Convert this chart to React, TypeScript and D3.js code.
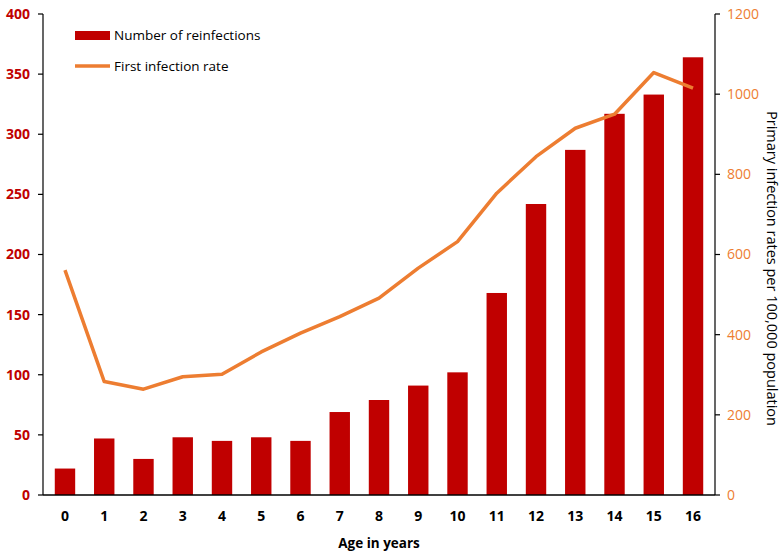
import { useMemo } from "react";
import * as d3 from "d3";

const W = 784;
const H = 552;
const MARGIN = { top: 14, right: 69, bottom: 57, left: 43 };

const BAR_COLOR = "#C00000";
const LINE_COLOR = "#ED7D31";
const FONT = "'Open Sans', 'Noto Sans', sans-serif";

// age groups (x axis)
const ages = ["0", "1", "2", "3", "4", "5", "6", "7", "8", "9", "10", "11", "12", "13", "14", "15", "16"];
// number of reinfections (left axis)
const reinfections = [22, 47, 30, 48, 45, 48, 45, 69, 79, 91, 102, 168, 242, 287, 317, 333, 364];
// first infection rate per 100,000 (right axis)
const firstRate = [561, 283, 264, 295, 301, 357, 404, 445, 491, 566, 632, 753, 844, 915, 950, 1054, 1015];

const leftTicks = [0, 50, 100, 150, 200, 250, 300, 350, 400];
const rightTicks = [0, 200, 400, 600, 800, 1000, 1200];

export default function App() {
  const boundsW = W - MARGIN.left - MARGIN.right;
  const boundsH = H - MARGIN.top - MARGIN.bottom;

  const x = useMemo(
    () => d3.scaleBand().domain(ages).range([0, boundsW]).paddingInner(0.48).paddingOuter(0.3),
    [boundsW]
  );
  const yLeft = useMemo(() => d3.scaleLinear().domain([0, 400]).range([boundsH, 0]), [boundsH]);
  const yRight = useMemo(() => d3.scaleLinear().domain([0, 1200]).range([boundsH, 0]), [boundsH]);

  const cx = (a: string) => (x(a) as number) + x.bandwidth() / 2;

  const linePath = d3
    .line<number>()
    .x((_, i) => cx(ages[i]))
    .y((d) => yRight(d))(firstRate) as string;

  return (
    <svg width={W} height={H} style={{ position: "absolute", left: 0, top: 0 }} fontFamily={FONT}>
      <rect width={W} height={H} fill="#fff" />
      <g transform={`translate(${MARGIN.left},${MARGIN.top})`}>
        {/* bars */}
        {reinfections.map((v, i) => (
          <rect
            key={i}
            x={x(ages[i])}
            y={yLeft(v)}
            width={x.bandwidth()}
            height={boundsH - yLeft(v)}
            fill={BAR_COLOR}
          />
        ))}

        {/* line */}
        <path d={linePath} fill="none" stroke={LINE_COLOR} strokeWidth={3.5} strokeLinejoin="round" />

        {/* left axis */}
        <line x1={0} x2={0} y1={0} y2={boundsH} stroke="#000" strokeWidth={1.2} />
        {leftTicks.map((t) => (
          <g key={t} transform={`translate(0,${yLeft(t)})`}>
            <line x1={-5} x2={0} stroke="#000" strokeWidth={1.2} />
            <text x={-13} dy="0.35em" textAnchor="end" fontSize={14} fontWeight="bold" fill={BAR_COLOR}>
              {t}
            </text>
          </g>
        ))}

        {/* right axis */}
        <line x1={boundsW} x2={boundsW} y1={0} y2={boundsH} stroke="#000" strokeWidth={1.2} />
        {rightTicks.map((t) => (
          <g key={t} transform={`translate(${boundsW},${yRight(t)})`}>
            <line x1={0} x2={5} stroke="#000" strokeWidth={1.2} />
            <text x={12} dy="0.35em" textAnchor="start" fontSize={14} fill={LINE_COLOR}>
              {t}
            </text>
          </g>
        ))}

        {/* bottom axis */}
        <line x1={0} x2={boundsW} y1={boundsH} y2={boundsH} stroke="#000" strokeWidth={1.5} />
        {ages.map((a) => (
          <text
            key={a}
            x={cx(a)}
            y={boundsH + 21}
            dy="0.35em"
            textAnchor="middle"
            fontSize={14}
            fontWeight="bold"
            fill="#000"
          >
            {a}
          </text>
        ))}
        <text
          x={boundsW / 2}
          y={boundsH + 48}
          dy="0.35em"
          textAnchor="middle"
          fontSize={13.5}
          fontWeight="bold"
          fill="#000"
        >
          Age in years
        </text>

        {/* right axis title */}
        <text
          transform={`translate(${boundsW + 57},${boundsH / 2 + 14}) rotate(90)`}
          textAnchor="middle"
          dy="0.35em"
          fontSize={14.5}
          fill="#000"
        >
          Primary infection rates per 100,000 population
        </text>

        {/* legend */}
        <g transform="translate(32,21)">
          <rect x={0} y={-4} width={35} height={9} fill={BAR_COLOR} />
          <text x={39} dy="0.35em" fontSize={13.5} fill="#000">
            Number of reinfections
          </text>
          <line x1={0} x2={35} y1={31} y2={31} stroke={LINE_COLOR} strokeWidth={3.5} />
          <text x={39} y={31} dy="0.35em" fontSize={13.5} fill="#000">
            First infection rate
          </text>
        </g>
      </g>
    </svg>
  );
}
